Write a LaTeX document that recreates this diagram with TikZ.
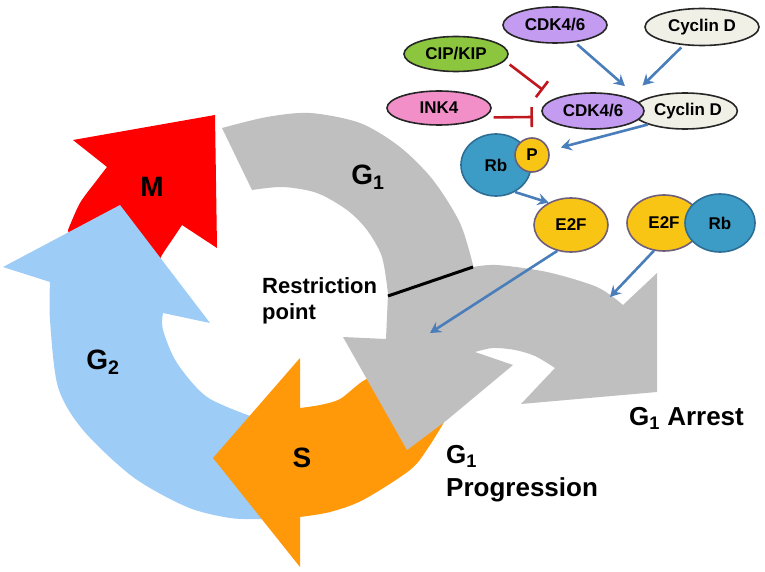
\documentclass[tikz,border=0pt]{standalone}
\usepackage{fontspec}
\setmainfont{Liberation Sans}
\usetikzlibrary{positioning,shapes.geometric,arrows.meta}
\definecolor{phM}{HTML}{FF0000}
\definecolor{phGtwo}{HTML}{9DCCF6}
\definecolor{phS}{HTML}{FF990A}
\definecolor{phGone}{HTML}{BFBFBF}
\definecolor{actblue}{HTML}{4A7EBB}
\definecolor{inhred}{HTML}{C0171E}
\definecolor{cdkfill}{HTML}{C39BF0}
\definecolor{cycfill}{HTML}{F1F0E6}
\definecolor{cipfill}{HTML}{8CC63E}
\definecolor{inkfill}{HTML}{F38FC8}
\definecolor{rbfill}{HTML}{3C9CC5}
\definecolor{rbline}{HTML}{2D6E96}
\definecolor{e2ffill}{HTML}{F8C515}
\definecolor{e2fline}{HTML}{6E5E7A}
\tikzset{
  mol/.style={
    ellipse, draw=black!85, line width=1.6pt, inner sep=0pt,
    font=\bfseries\fontsize{17}{19}\selectfont
  },
  act/.style={draw=actblue, line width=2.6pt,
    -{Stealth[length=11pt,width=12pt,inset=4pt]}},
  inhib/.style={draw=inhred, line width=2.6pt, -{Bar[width=20pt]}},
  phase/.style={font=\bfseries\fontsize{28}{30}\selectfont},
  note/.style={inner sep=0pt, align=left}
}

\begin{document}
\begin{tikzpicture}[x=1pt,y=-1pt]
  \useasboundingbox (0,0) rectangle (765,572);
  % the cycle
  \fill[phM] (72,252) -- plot[smooth] coordinates {(68,230) (80,203) (97,180) (107,167)}
    -- (73,140) -- (215,115) -- (217,248) -- (182,225)
    -- plot[smooth] coordinates {(182,225) (172,240) (162,255) (155,270)} -- cycle;
  \fill[phGtwo] (120,205) -- (3,267) -- (50,282)
    -- plot[smooth] coordinates {(50,282) (50,320) (58,387) (83,430) (133,477) (187,507) (230,518) (262,519)}
    -- (265,418)
    -- plot[smooth] coordinates {(253,417) (207,397) (177,363) (163,330) (163,313)}
    -- (210,323) -- cycle;
  \fill[phS] (213,458) -- (300,358) -- (300,408)
    -- plot[smooth] coordinates {(300,408) (320,405) (340,399) (363,381) (392,366)}
    -- (446,419)
    -- plot[smooth] coordinates {(446,419) (428,448) (410,470) (363,500) (330,512) (300,517)}
    -- (300,567) -- cycle;
  \fill[phGone] (222,128)
    -- plot[smooth] coordinates {(222,128) (267,117) (310,113) (360,123) (400,147) (433,180) (460,223) (473,265)}
    -- plot[smooth] coordinates {(473,267) (497,265) (547,272) (597,287) (623,305)}
    -- (657,273) -- (657,392) -- (521,404) -- (555,368)
    -- plot[smooth] coordinates {(555,368) (535,356) (515,350) (493,348) (475,352)}
    -- (513,365) -- (447,420) -- (407,450) -- (343,337) -- (386,339)
    -- plot[smooth] coordinates {(388,294) (382,257) (367,230) (347,210) (317,193) (283,187) (252,190)}
    -- cycle;
  \draw[line width=3pt] (388,296) -- (473,267);

  \node[phase] (lblM) at (152,187) {M};
  \node[phase] (lblGone) at (368,177) {G\textsubscript{1}};
  \node[phase] (lblGtwo) at (103,362) {G\textsubscript{2}};
  \node[phase] (lblS) at (302,458) {S};
  \node[note, anchor=west, font=\bfseries\fontsize{22}{26}\selectfont] (lblRP) at (262,301) {Restriction\\point};
  \node[note, anchor=west, font=\bfseries\fontsize{26}{33}\selectfont] (lblProg) at (446,474) {G\textsubscript{1}\\Progression};
  \node[note, anchor=west, font=\bfseries\fontsize{26}{30}\selectfont] (lblArrest) at (629,418) {G\textsubscript{1} Arrest};

  % regulators
  \node[mol, fill=cdkfill, minimum width=104pt, minimum height=36pt] (cdkTop) at (555,25) {CDK4/6};
  \node[mol, fill=cycfill, minimum width=114pt, minimum height=37pt] (cycTop) at (702,27) {Cyclin D};
  \node[mol, fill=cipfill, minimum width=104pt, minimum height=35pt] (cip) at (456,54) {CIP/KIP};
  \node[mol, fill=inkfill, minimum width=104pt, minimum height=34pt] (ink) at (439,108) {INK4};
  \node[mol, fill=cycfill, minimum width=102pt, minimum height=36pt] (cycMid) at (685,111) {\hspace{6pt}Cyclin D};
  \node[mol, fill=cdkfill, minimum width=102pt, minimum height=36pt, on grid, left=92pt of cycMid] (cdkMid) {CDK4/6};
  \node[mol, fill=rbfill, draw=rbline, minimum width=70pt, minimum height=62pt] (rbP) at (496,165) {Rb};
  \node[mol, circle, fill=e2ffill, draw=e2fline, minimum size=34pt, on grid, above right=10pt and 36pt of rbP] (phos) {P};
  \node[mol, fill=e2ffill, draw=e2fline, minimum width=74pt, minimum height=54pt] (e2f) at (571,225) {E2F};
  \node[mol, fill=e2ffill, draw=e2fline, minimum width=74pt, minimum height=56pt] (e2fB) at (664,223) {E2F};
  \node[mol, fill=rbfill, draw=rbline, minimum width=70pt, minimum height=58pt, on grid, right=56pt of e2fB] (rbB) {Rb};

  \coordinate (bind) at (634,94);
  \coordinate (cipEnd) at (543,90);
  \coordinate (inkEnd) at (533,117);
  \coordinate (toProg) at (430,333);
  \coordinate (toArrest) at (610,297);

  \draw[act, shorten <=3pt, shorten >=12pt] (cdkTop) -- (bind);
  \draw[act, shorten <=3pt, shorten >=12pt] (cycTop) -- (bind);
  \draw[inhib, shorten <=6pt] (cip.-8) -- (cipEnd);
  \draw[inhib, shorten <=10pt] (ink.-12) -- (inkEnd);
  \draw[act, shorten >=12pt] (cycMid.200) -- (phos);
  \draw[act] (rbP.-55) -- (e2f.135);
  \draw[act] (e2f.-118) -- (toProg);
  \draw[act] (e2fB.-110) -- (toArrest);
\end{tikzpicture}
\end{document}
